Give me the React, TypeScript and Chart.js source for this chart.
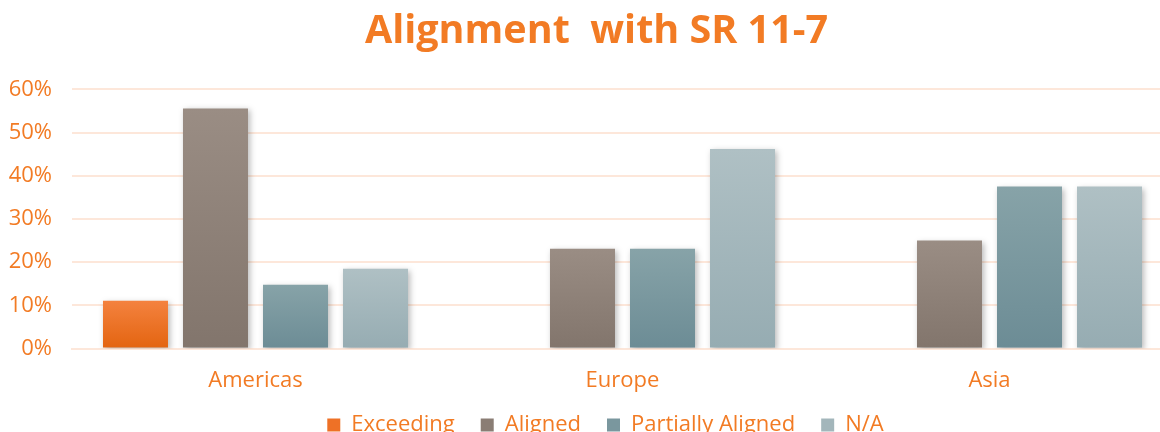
import React, { useEffect, useRef } from "react";
import { Chart, registerables } from "chart.js";

Chart.register(...registerables);

const categories = ["Americas", "Europe", "Asia"];
const seriesNames = ["Exceeding", "Aligned", "Partially Aligned", "N/A"];
const exceeding = [11.1, 0, 0];
const aligned = [55.6, 23.1, 25.0];
const partiallyAligned = [14.8, 23.1, 37.5];
const notApplicable = [18.5, 46.2, 37.5];
const yTicks = [0, 10, 20, 30, 40, 50, 60];

const ORANGE = "#F27B24";
const GRID = "#FDE7DA";
const FONT = "'Open Sans', 'DejaVu Sans', sans-serif";

const gradStops: [string, string][] = [
  ["#F4823F", "#E36410"],
  ["#9A8D84", "#82756C"],
  ["#87A3A8", "#6C8C95"],
  ["#AFC0C4", "#96ACB2"],
];
const solid = ["#EE7126", "#8A7D74", "#7A979E", "#A3B6BB"];

function gradientFill(i: number) {
  return (ctx: any) => {
    const chart = ctx.chart;
    const area = chart.chartArea;
    const y = chart.scales && chart.scales.y;
    if (!area || !y || ctx.type !== "data") return solid[i];
    const v = ctx.raw as number;
    const top = y.getPixelForValue(v);
    const bottom = y.getPixelForValue(0);
    if (!isFinite(top) || Math.abs(bottom - top) < 1) return solid[i];
    const g = chart.ctx.createLinearGradient(0, top, 0, bottom);
    g.addColorStop(0, gradStops[i][0]);
    g.addColorStop(1, gradStops[i][1]);
    return g;
  };
}

const shadowPlugin = {
  id: "barShadow",
  beforeDatasetsDraw(chart: any) {
    const c = chart.ctx;
    c.save();
    c.shadowColor = "rgba(0,0,0,0.28)";
    c.shadowBlur = 6;
    c.shadowOffsetX = 2;
    c.shadowOffsetY = 2;
  },
  afterDatasetsDraw(chart: any) {
    chart.ctx.restore();
  },
};

const LEGEND_SHIFT_Y = 25;
const LEGEND_SHIFT_X = 19;
const TITLE_SHIFT_X = 10;
const blockShiftPlugin = {
  id: "blockShift",
  afterLayout(chart: any) {
    const l = chart.legend;
    if (l) {
      l.top -= LEGEND_SHIFT_Y;
      l.bottom -= LEGEND_SHIFT_Y;
      l.left += LEGEND_SHIFT_X;
      l.right += LEGEND_SHIFT_X;
    }
    const t = chart.titleBlock;
    if (t) {
      t.left += TITLE_SHIFT_X;
      t.right += TITLE_SHIFT_X;
    }
  },
};

export default function App() {
  const ref = useRef<HTMLCanvasElement | null>(null);
  useEffect(() => {
    if (!ref.current) return;
    const seriesValues = [exceeding, aligned, partiallyAligned, notApplicable];
    const chart = new Chart(ref.current, {
      type: "bar",
      data: {
        labels: categories,
        datasets: seriesNames.map((name, i) => ({
          label: name,
          data: seriesValues[i],
          backgroundColor: gradientFill(i),
          borderWidth: 0,
          categoryPercentage: 0.872,
          barPercentage: 0.8125,
        })),
      },
      options: {
        responsive: false,
        animation: false,
        layout: { padding: { left: 0, right: 23, top: 0, bottom: 0 } },
        plugins: {
          title: {
            display: true,
            text: "Alignment  with SR 11-7",
            color: ORANGE,
            font: { family: FONT, size: 39.5, weight: "bold" },
            padding: { top: 8, bottom: 34 },
          },
          legend: {
            position: "bottom",
            labels: {
              color: ORANGE,
              font: { family: FONT, size: 22 },
              boxWidth: 13,
              boxHeight: 13,
              padding: 26,
              generateLabels: (chart: any) =>
                chart.data.datasets.map((d: any, i: number) => ({
                  text: d.label,
                  fillStyle: solid[i],
                  strokeStyle: solid[i],
                  lineWidth: 0,
                  hidden: false,
                  datasetIndex: i,
                  fontColor: ORANGE,
                })),
            },
          },
          tooltip: { enabled: false },
        },
        scales: {
          x: {
            grid: { display: false, drawTicks: false },
            border: { display: true, color: GRID, width: 2 },
            ticks: {
              color: ORANGE,
              font: { family: FONT, size: 22 },
              padding: 19,
            },
          },
          y: {
            min: 0,
            max: 60,
            afterBuildTicks: (axis: any) => {
              axis.ticks = yTicks.map((v) => ({ value: v }));
            },
            afterFit: (axis: any) => {
              axis.width = 72;
            },
            grid: { color: GRID, lineWidth: 2, drawTicks: false },
            border: { display: false },
            ticks: {
              color: ORANGE,
              font: { family: FONT, size: 22 },
              padding: 20,
              callback: (v: any) => v + "%",
            },
          },
        },
      },
      plugins: [shadowPlugin, blockShiftPlugin],
    });
    return () => chart.destroy();
  }, []);
  return (
    <div
      style={{
        position: "fixed",
        left: 0,
        top: 0,
        width: 1160,
        height: 432,
        overflow: "hidden",
        background: "#fff",
      }}
    >
      <canvas ref={ref} width={1196} height={471} style={{ display: "block" }} />
    </div>
  );
}
